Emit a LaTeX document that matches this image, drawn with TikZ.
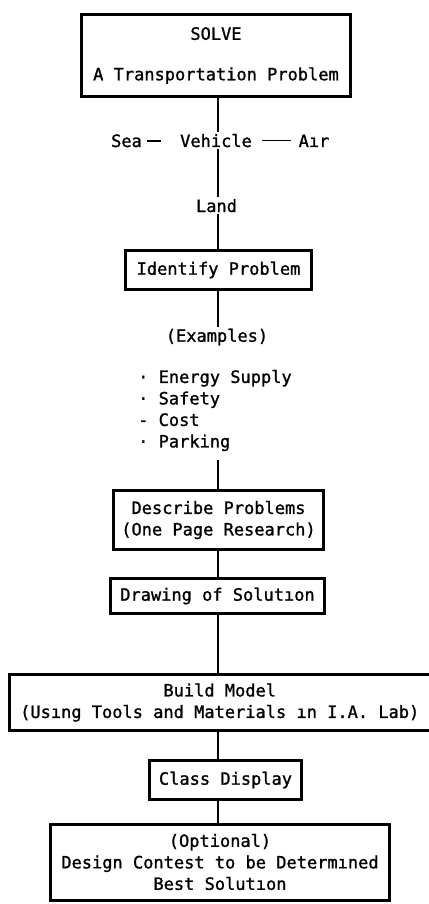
\documentclass[tikz,border=0pt]{standalone}
\usepackage{fontspec}
\setmonofont[FakeBold=1.2]{DejaVu Sans Mono}
\begin{document}
\begin{tikzpicture}[x=1pt,y=-1pt,
  every node/.style={font=\fontsize{17}{21.5}\selectfont\ttfamily},
  box/.style={draw, line width=3pt, align=center, inner sep=0pt},
  lbl/.style={inner sep=1.5pt, anchor=base},
  conn/.style={line width=2pt},
  dashline/.style={line width=1.6pt}]
\useasboundingbox (0,0) rectangle (428,904);
\coordinate (spine) at (218,0);

\node[box, minimum width=269pt, minimum height=82pt] (solve) at (216,55.5) {SOLVE\\[19pt]A Transportation Problem};
\node[lbl] (sea) at (126.5,147) {Sea};
\node[lbl] (vehicle) at (216,147) {Vehicle};
\node[lbl] (air) at (314,147) {Aır};
\node[lbl] (land) at (216.5,212) {Land};
\node[box, minimum width=186pt, minimum height=39pt] (identify) at (218.5,270) {Identify Problem};
\node[inner sep=1.5pt] (examples) at (217,337) {(Examples)};
\node[anchor=west, align=left, inner sep=0pt] (list) at (138,410.5) {· Energy Supply\\· Safety\\- Cost\\· Parking};
\node[box, minimum width=210pt, minimum height=59pt] (describe) at (218.5,520) {Describe Problems\\(One Page Research)};
\node[box, minimum width=214pt, minimum height=35pt] (drawing) at (217.5,596) {Drawing of Solutıon};
\node[box, minimum width=420.5pt, minimum height=56pt] (build) at (219.75,702.5) {Build Model\\(Usıng Tools and Materials ın I.A. Lab)};
\node[box, minimum width=152pt, minimum height=39pt] (class) at (225.5,780) {Class Display};
\node[box, minimum width=339pt, minimum height=76pt] (optional) at (220,862) {(Optional)\\Design Contest to be Determıned\\Best Solutıon};

\draw[dashline, shorten <=3.6pt, shorten >=17.7pt] (sea.east) -- (sea.east -| vehicle.west);
\draw[dashline, shorten <=8.7pt, shorten >=6pt] (vehicle.east) -- (vehicle.east -| air.west);

\draw[conn] (solve.south -| spine) -- (vehicle.north -| spine);
\draw[conn] (vehicle.south -| spine) -- (land.north -| spine);
\draw[conn] (land.south -| spine) -- (identify.north -| spine);
\draw[conn] (identify.south -| spine) -- (examples.north -| spine);
\draw[conn, shorten <=9pt] (list.south -| spine) -- (describe.north -| spine);
\draw[conn] (describe.south -| spine) -- (drawing.north -| spine);
\draw[conn] (drawing.south -| spine) -- (build.north -| spine);
\draw[conn] (build.south -| spine) -- (class.north -| spine);
\draw[conn] (class.south -| spine) -- (optional.north -| spine);
\end{tikzpicture}
\end{document}
